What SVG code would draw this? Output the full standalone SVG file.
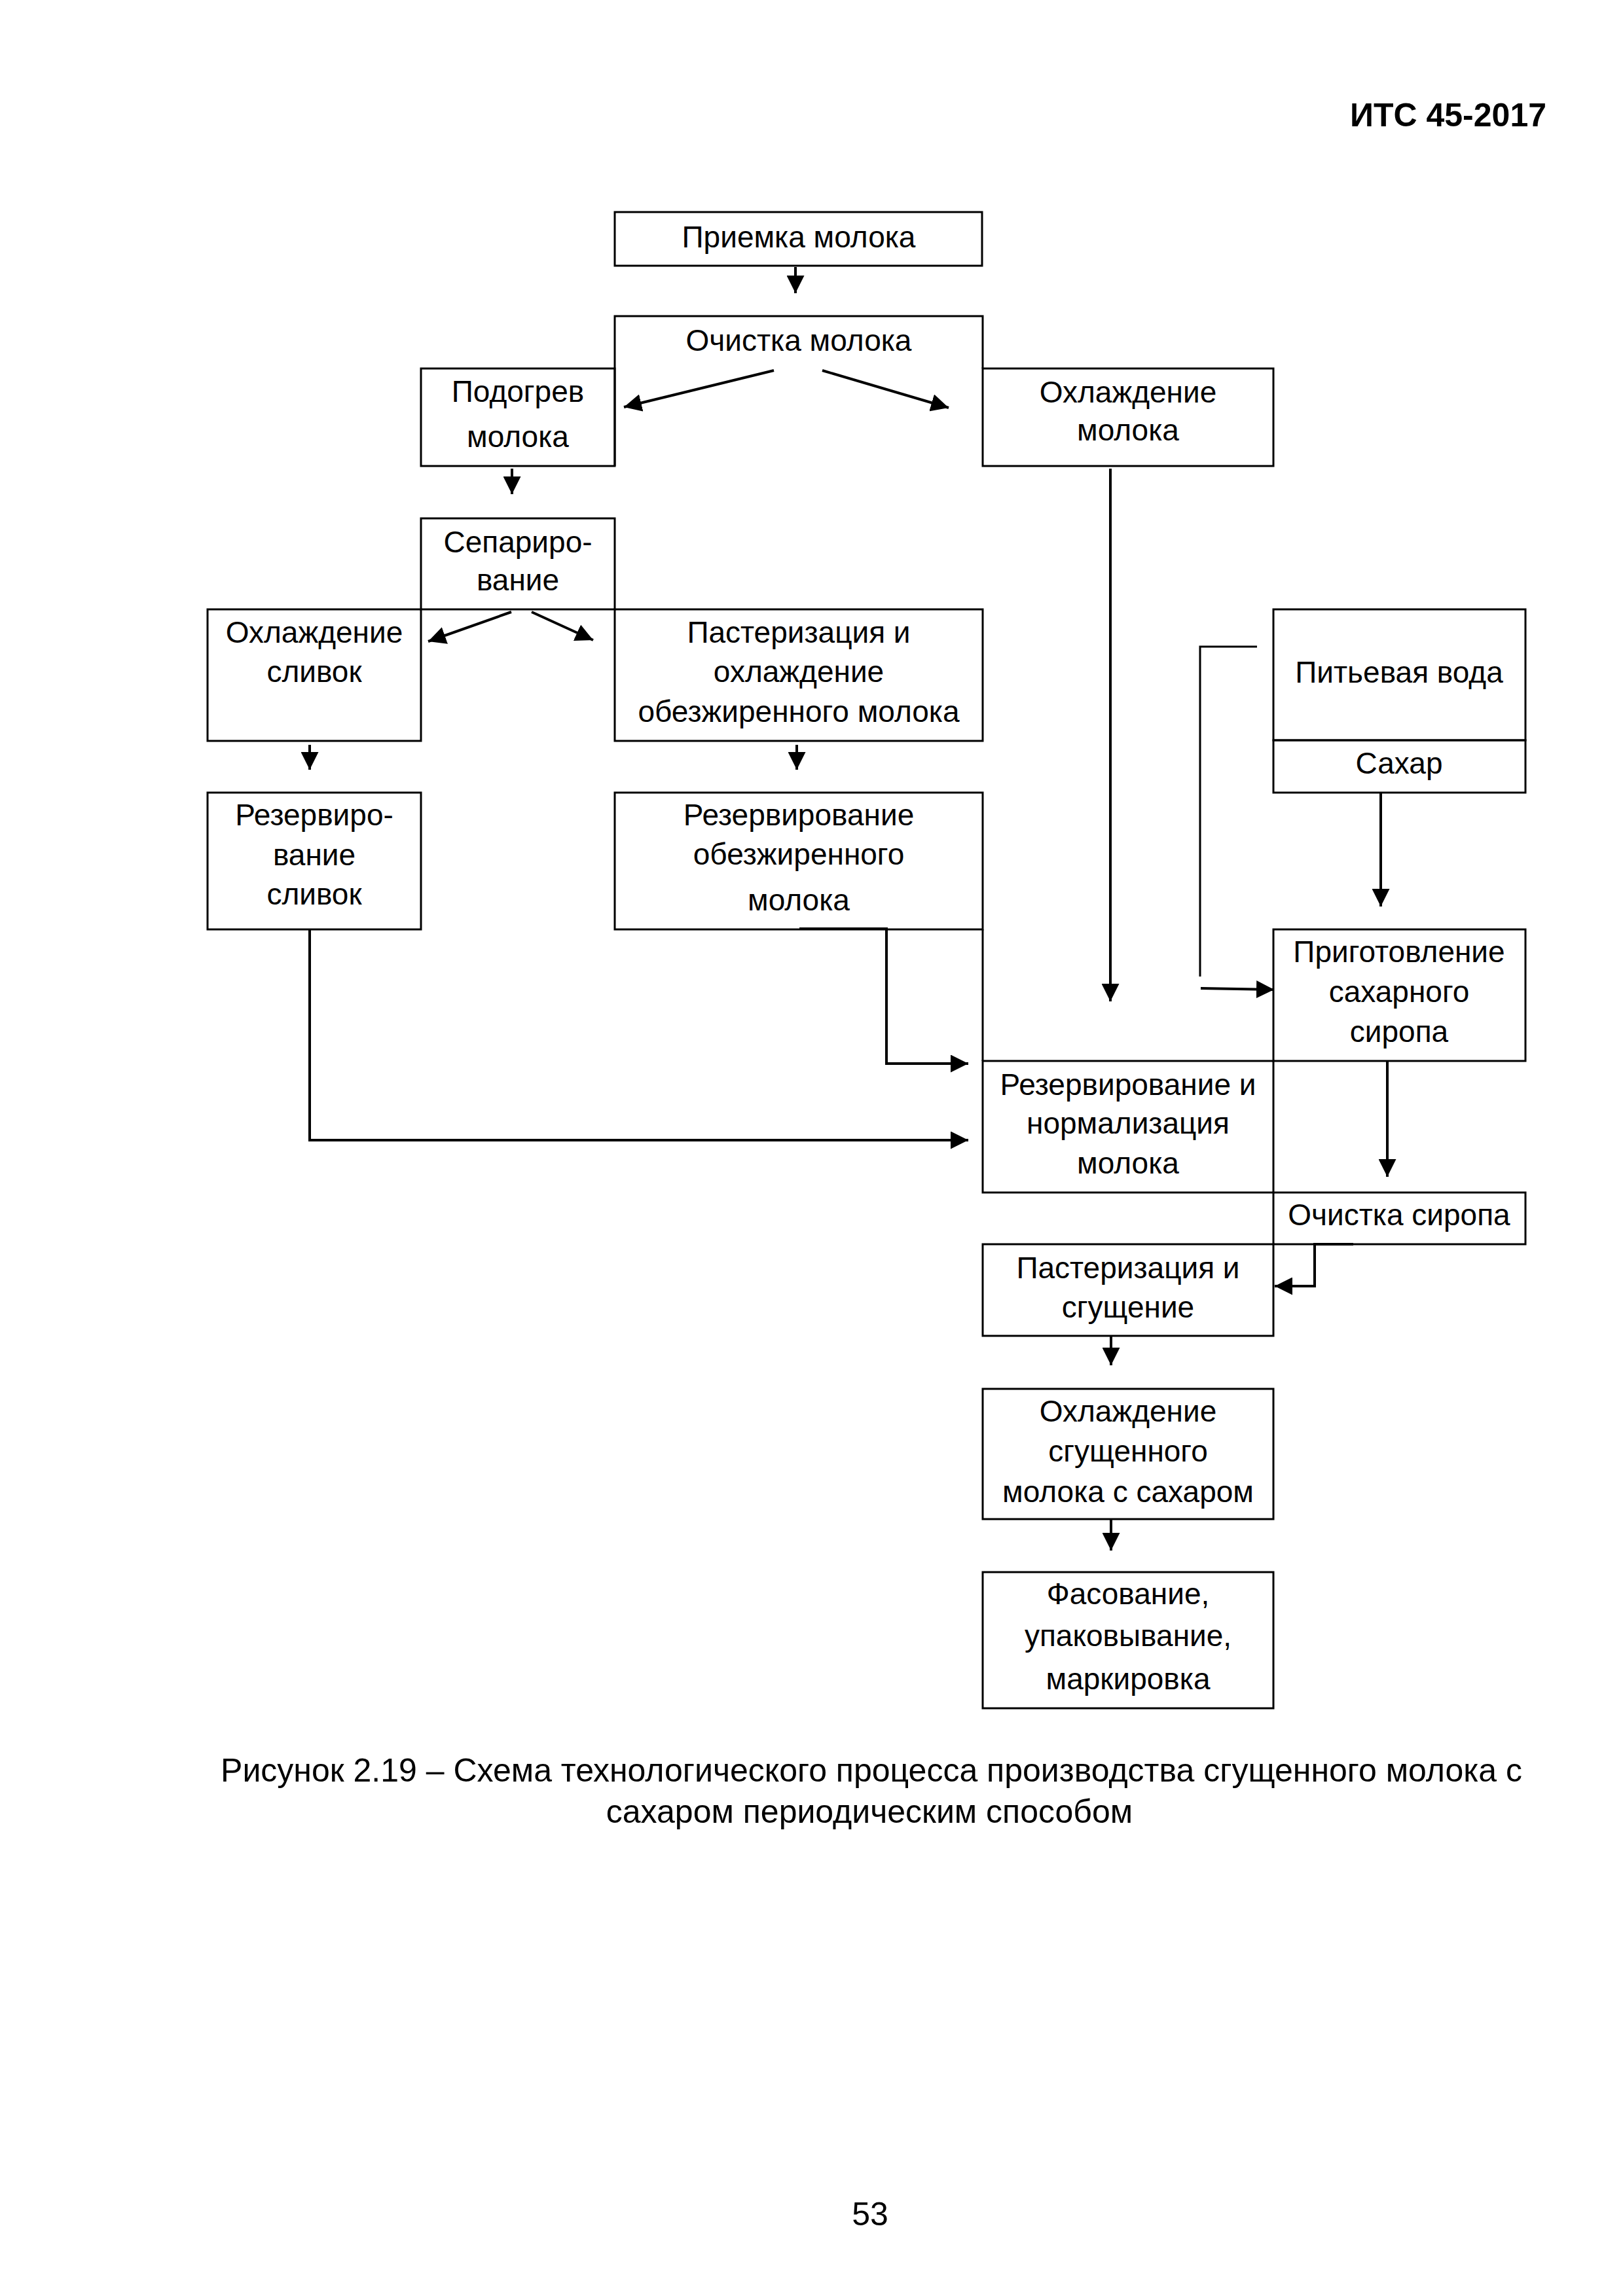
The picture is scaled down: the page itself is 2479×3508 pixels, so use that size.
<svg xmlns="http://www.w3.org/2000/svg" width="2479" height="3508" viewBox="0 0 2479 3508">
<style>
.bg{fill:#fff}
.box{fill:none;stroke:#000;stroke-width:3}
.t{font-family:"Liberation Sans",Arial,sans-serif;font-size:46px;fill:#000;text-anchor:middle}
.cap{font-family:"Liberation Sans",Arial,sans-serif;font-size:50px;fill:#000;text-anchor:middle}
.hdr{font-family:"Liberation Sans",Arial,sans-serif;font-size:50px;font-weight:bold;fill:#000;text-anchor:end}
.c{fill:none;stroke:#000;stroke-width:4}
.ca{fill:none;stroke:#000;stroke-width:4;marker-end:url(#ah)}
.ct{fill:none;stroke:#000;stroke-width:3}
</style>
<defs>
<marker id="ah" markerUnits="userSpaceOnUse" markerWidth="27" markerHeight="27" refX="27" refY="13.5" orient="auto" viewBox="0 0 27 27">
<path d="M0,0 L27,13.5 L0,27 z" fill="#000"/>
</marker>
</defs>
<rect class="bg" x="0" y="0" width="2479" height="3508"/>
<text class="hdr" x="2362" y="193">ИТС 45-2017</text>

<g id="n-priemka"><rect class="box" x="939" y="324" width="561" height="82"/><text class="t" x="1220" y="378">Приемка молока</text></g>
<g id="n-ochistka"><path class="box" d="M939,712 V483 H1501 V563"/><text class="t" x="1220" y="536">Очистка молока</text></g>
<g id="n-podogrev"><rect class="box" x="643" y="563" width="296" height="149"/><text class="t" x="791" y="614">Подогрев</text><text class="t" x="791" y="683">молока</text></g>
<g id="n-ohl-moloka"><rect class="box" x="1501" y="563" width="444" height="149"/><text class="t" x="1723" y="615">Охлаждение</text><text class="t" x="1723" y="673">молока</text></g>
<g id="n-separ"><rect class="box" x="643" y="792" width="296" height="139"/><text class="t" x="791" y="844">Сепариро-</text><text class="t" x="791" y="902">вание</text></g>
<g id="n-ohl-slivok"><rect class="box" x="317" y="931" width="326" height="201"/><text class="t" x="480" y="982">Охлаждение</text><text class="t" x="480" y="1042">сливок</text></g>
<g id="n-past-ohl"><rect class="box" x="939" y="931" width="562" height="201"/><text class="t" x="1220" y="982">Пастеризация и</text><text class="t" x="1220" y="1042">охлаждение</text><text class="t" x="1220" y="1103">обезжиренного молока</text></g>
<g id="n-rez-slivok"><rect class="box" x="317" y="1211" width="326" height="209"/><text class="t" x="480" y="1261">Резервиро-</text><text class="t" x="480" y="1322">вание</text><text class="t" x="480" y="1382">сливок</text></g>
<g id="n-rez-obezh"><rect class="box" x="939" y="1211" width="562" height="209"/><text class="t" x="1220" y="1261">Резервирование</text><text class="t" x="1220" y="1321">обезжиренного</text><text class="t" x="1220" y="1391">молока</text></g>
<g id="n-voda"><rect class="box" x="1945" y="931" width="385" height="200"/><text class="t" x="2137" y="1043">Питьевая вода</text></g>
<g id="n-sahar"><rect class="box" x="1945" y="1131" width="385" height="80"/><text class="t" x="2137" y="1182">Сахар</text></g>
<g id="n-prigot"><rect class="box" x="1945" y="1420" width="385" height="201"/><text class="t" x="2137" y="1470">Приготовление</text><text class="t" x="2137" y="1531">сахарного</text><text class="t" x="2137" y="1592">сиропа</text></g>
<g id="n-rez-norm"><rect class="box" x="1501" y="1621" width="444" height="201"/><line class="box" x1="1501" y1="1420" x2="1501" y2="1621"/><text class="t" x="1723" y="1673">Резервирование и</text><text class="t" x="1723" y="1732">нормализация</text><text class="t" x="1723" y="1793">молока</text></g>
<g id="n-ochistka-sir"><rect class="box" x="1945" y="1822" width="385" height="79"/><text class="t" x="2137" y="1872">Очистка сиропа</text></g>
<g id="n-past-sgush"><rect class="box" x="1501" y="1901" width="444" height="140"/><text class="t" x="1723" y="1953">Пастеризация и</text><text class="t" x="1723" y="2013">сгущение</text></g>
<g id="n-ohl-sgush"><rect class="box" x="1501" y="2122" width="444" height="199"/><text class="t" x="1723" y="2172">Охлаждение</text><text class="t" x="1723" y="2233">сгущенного</text><text class="t" x="1723" y="2295">молока с сахаром</text></g>
<g id="n-fasov"><rect class="box" x="1501" y="2402" width="444" height="208"/><text class="t" x="1723" y="2451">Фасование,</text><text class="t" x="1723" y="2515">упаковывание,</text><text class="t" x="1723" y="2581">маркировка</text></g>

<g id="connectors">
<path class="ca" d="M1215,408 V448"/>
<path class="ca" d="M1182,566 L953,622"/>
<path class="ca" d="M1256,566 L1449,623"/>
<path class="ca" d="M782,716 V755"/>
<path class="ca" d="M781,935 L654,980"/>
<path class="ca" d="M812,935 L906,978"/>
<path class="ca" d="M473,1138 V1176"/>
<path class="ca" d="M1217,1138 V1176"/>
<path class="ca" d="M473,1420 V1742 H1479"/>
<path class="ca" d="M1221,1419 H1354 V1625 H1479"/>
<path class="ca" d="M1696,716 V1530"/>
<path class="ct" d="M1920,988 H1833 V1492"/>
<path class="ca" d="M1834,1510 L1946,1512"/>
<path class="ca" d="M2109,1211 V1385"/>
<path class="ca" d="M2119,1621 V1798"/>
<path class="ca" d="M2067,1901 H2008 V1965 H1947"/>
<path class="ca" d="M1697,2041 V2086"/>
<path class="ca" d="M1697,2321 V2369"/>
</g>

<text class="cap" x="1331" y="2722">Рисунок 2.19 – Схема технологического процесса производства сгущенного молока с</text>
<text class="cap" x="1328" y="2785">сахаром периодическим способом</text>
<text class="cap" x="1329" y="3400">53</text>
</svg>
